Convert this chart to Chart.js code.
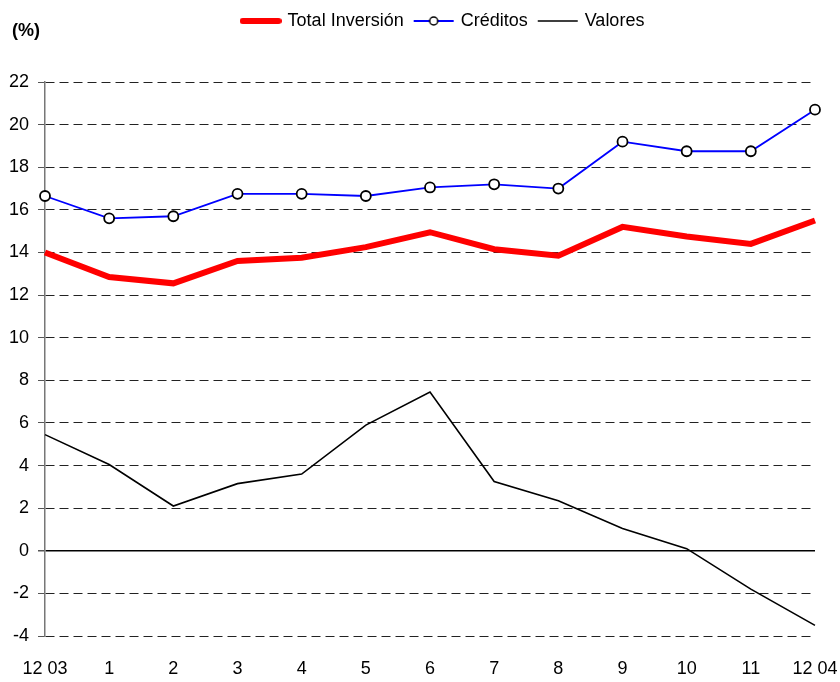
<!DOCTYPE html>
<html>
<head>
<meta charset="utf-8">
<script src="https://cdn.jsdelivr.net/npm/chart.js@4/dist/chart.umd.min.js"></script>
<style>
  body { margin: 0; background: #fff; }
  #wrap { position: relative; width: 840px; height: 682px; }
</style>
</head>
<body>
<div id="wrap"><canvas id="chart" width="840" height="682"></canvas></div>
<script>
const labels = ['12 03', '1', '2', '3', '4', '5', '6', '7', '8', '9', '10', '11', '12 04'];
const totalInversion = [14.0, 12.85, 12.55, 13.6, 13.75, 14.25, 14.95, 14.15, 13.85, 15.2, 14.75, 14.4, 15.5];
const creditos = [16.65, 15.6, 15.7, 16.75, 16.75, 16.65, 17.05, 17.2, 17.0, 19.2, 18.75, 18.75, 20.7];
const valores = [5.45, 4.05, 2.1, 3.15, 3.6, 5.9, 7.45, 3.25, 2.35, 1.05, 0.1, -1.8, -3.5];
const yTicks = { min: -4, max: 22, step: 2 };

const FONT = "'Liberation Sans', Arial, sans-serif";

// small legend swatches
function swatch(kind){
    const c = document.createElement('canvas');
    c.width = 42; c.height = 12;
    const g = c.getContext('2d');
    g.beginPath();
    g.moveTo(3, 6); g.lineTo(39, 6);
    if(kind === 'red'){ g.strokeStyle = '#ff0000'; g.lineWidth = 6; g.lineCap = 'round'; }
    else if(kind === 'blue'){ g.moveTo(1, 6); g.lineTo(41, 6); g.strokeStyle = '#0000ff'; g.lineWidth = 2; }
    else { g.moveTo(1, 6); g.lineTo(41, 6); g.strokeStyle = '#000'; g.lineWidth = 1.5; }
    g.stroke();
    if(kind === 'blue'){
        g.beginPath();
        g.arc(21, 6, 4, 0, Math.PI * 2);
        g.fillStyle = '#fff'; g.fill();
        g.lineWidth = 1.5; g.strokeStyle = '#000'; g.stroke();
    }
    return c;
}
const swatches = [swatch('red'), swatch('blue'), swatch('black')];

const percentLabel = {
    id: 'percentLabel',
    afterDraw(chart){
        const ctx = chart.ctx;
        ctx.save();
        ctx.font = 'bold 18px ' + FONT;
        ctx.fillStyle = '#000';
        ctx.textBaseline = 'middle';
        ctx.fillText('(%)', 12, 31);
        ctx.restore();
    }
};

// push the plot down below the legend, and nudge the legend right
const legendGap = {
    id: 'legendGap',
    beforeInit(chart){
        const fit = chart.legend.fit;
        chart.legend.fit = function(){
            fit.bind(chart.legend)();
            this.height += 42;
        };
    },
    afterLayout(chart){
        chart.legend.left += 36;
        chart.legend.right += 36;
    }
};

new Chart(document.getElementById('chart'), {
    type: 'line',
    data: {
        labels: labels,
        datasets: [
            {
                label: 'Total Inversión',
                data: totalInversion,
                borderColor: '#ff0000',
                borderWidth: 6,
                pointRadius: 0,
                tension: 0
            },
            {
                label: 'Créditos',
                data: creditos,
                borderColor: '#0000ff',
                borderWidth: 1.8,
                pointRadius: 5,
                pointBackgroundColor: '#fff',
                pointBorderColor: '#000',
                pointBorderWidth: 1.8,
                tension: 0
            },
            {
                label: 'Valores',
                data: valores,
                borderColor: '#000',
                borderWidth: 1.6,
                pointRadius: 0,
                tension: 0
            }
        ]
    },
    options: {
        responsive: false,
        animation: false,
        layout: { padding: { left: 0, right: 25, top: 0, bottom: 0 } },
        plugins: {
            tooltip: { enabled: false },
            legend: {
                position: 'top',
                labels: {
                    usePointStyle: true,
                    pointStyleWidth: 36,
                    padding: 12,
                    color: '#000',
                    font: { family: FONT, size: 18 },
                    generateLabels(chart){
                        return chart.data.datasets.map((ds, i) => ({
                            text: ds.label,
                            pointStyle: swatches[i],
                            datasetIndex: i,
                            hidden: false,
                            lineWidth: 0,
                            fontColor: '#000'
                        }));
                    }
                }
            }
        },
        scales: {
            x: {
                offset: false,
                grid: { display: false },
                border: { display: false },
                ticks: {
                    color: '#000',
                    padding: 14,
                    maxRotation: 0,
                    autoSkip: false,
                    font: { family: FONT, size: 18 }
                },
                afterFit(scale){
                    scale.height = 46;
                    scale.paddingRight = 0;
                    scale.paddingLeft = 0;
                }
            },
            y: {
                min: yTicks.min,
                max: yTicks.max,
                grid: {
                    color: ctx => (ctx.tick && ctx.tick.value === 0) ? '#000' : '#222',
                    lineWidth: ctx => (ctx.tick && ctx.tick.value === 0) ? 1.5 : 1,
                    tickLength: 7,
                    tickColor: '#555'
                },
                border: {
                    display: true,
                    color: '#777',
                    width: 1.5,
                    dash: ctx => (ctx.tick && ctx.tick.value === 0) ? [] : [9, 5]
                },
                ticks: {
                    stepSize: yTicks.step,
                    color: '#000',
                    padding: 9,
                    font: { family: FONT, size: 18 }
                },
                afterFit(scale){ scale.width = 45; }
            }
        }
    },
    plugins: [percentLabel, legendGap]
});
</script>
</body>
</html>
